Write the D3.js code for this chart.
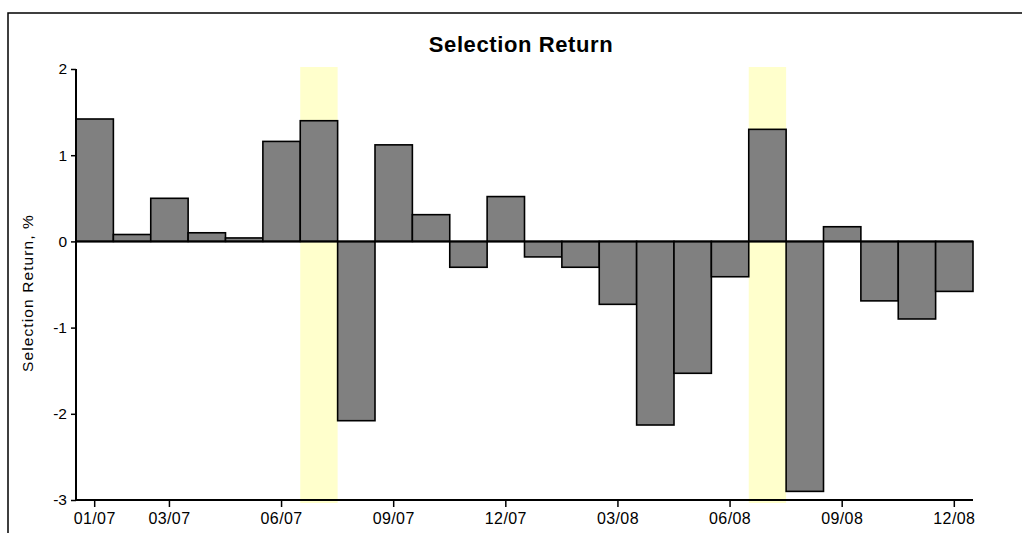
<!DOCTYPE html>
<html>
<head>
<meta charset="utf-8">
<script src="https://cdn.jsdelivr.net/npm/d3@7"></script>
<style>
  html, body { margin: 0; padding: 0; background: #fff; }
  svg { display: block; }
</style>
</head>
<body>
<svg id="chart" width="1022" height="533"></svg>
<script>
const months = ["01/07","02/07","03/07","04/07","05/07","06/07","07/07","08/07","09/07","10/07","11/07","12/07",
                "01/08","02/08","03/08","04/08","05/08","06/08","07/08","08/08","09/08","10/08","11/08","12/08"];
const values = [1.42, 0.08, 0.50, 0.10, 0.04, 1.16, 1.40, -2.08, 1.12, 0.31, -0.30, 0.52,
                -0.18, -0.30, -0.73, -2.13, -1.53, -0.41, 1.30, -2.90, 0.17, -0.69, -0.90, -0.58];
const highlighted = ["07/07", "07/08"];
const xTickLabels = ["01/07","03/07","06/07","09/07","12/07","03/08","06/08","09/08","12/08"];
const yTicks = [-3, -2, -1, 0, 1, 2];
const titleText = "Selection Return";
const yLabelText = "Selection Return, %";

const svg = d3.select("#chart");
const mLeft = 76, mRight = 973, mTop = 69, mBottom = 500;

const x = d3.scaleBand().domain(months).range([mLeft, mRight]).padding(0);
const y = d3.scaleLinear().domain([-3, 2]).range([mBottom, mTop]);

// outer frame
svg.append("rect").attr("x", 8).attr("y", 13).attr("width", 1030).attr("height", 540)
  .attr("fill", "none").attr("stroke", "#000").attr("stroke-width", 1.5);

// highlight bands
svg.append("g").selectAll("rect").data(highlighted).join("rect")
  .attr("x", d => x(d)).attr("width", x.bandwidth())
  .attr("y", y(2) - 2).attr("height", y(-3) - y(2) + 5)
  .attr("fill", "#ffffcc");

// bars
svg.append("g").selectAll("rect").data(months).join("rect")
  .attr("x", d => x(d)).attr("width", x.bandwidth())
  .attr("y", (d, i) => y(Math.max(0, values[i])))
  .attr("height", (d, i) => Math.abs(y(values[i]) - y(0)))
  .attr("fill", "#808080").attr("stroke", "#000").attr("stroke-width", 1.6);

// zero line
svg.append("line").attr("x1", mLeft).attr("x2", mRight).attr("y1", y(0)).attr("y2", y(0))
  .attr("stroke", "#000").attr("stroke-width", 2);

// y axis
const yAxis = svg.append("g").attr("transform", `translate(${mLeft},0)`)
  .call(d3.axisLeft(y).tickValues(yTicks).tickFormat(d => String(d)).tickSize(5).tickPadding(4));
yAxis.select(".domain").attr("d", `M0,${mTop}V${mBottom}`).attr("stroke-width", 2);
yAxis.selectAll(".tick line").attr("stroke-width", 1.5);
yAxis.selectAll("text").attr("font-family", "Liberation Sans, Arial, sans-serif").attr("font-size", 15.5).attr("fill", "#000");

// x axis
const xAxis = svg.append("g").attr("transform", `translate(0,${mBottom})`)
  .call(d3.axisBottom(x).tickValues(xTickLabels).tickSize(7).tickPadding(6));
xAxis.select(".domain").attr("d", `M${mLeft},0H${mRight}`).attr("stroke-width", 2);
xAxis.selectAll(".tick line").attr("stroke-width", 1.5);
xAxis.selectAll("text").attr("font-family", "Liberation Sans, Arial, sans-serif").attr("font-size", 16)
  .attr("letter-spacing", 0.4).attr("fill", "#000");

// title
svg.append("text").attr("x", 521).attr("y", 52).attr("text-anchor", "middle")
  .attr("font-family", "Liberation Sans, Arial, sans-serif").attr("font-weight", "bold")
  .attr("font-size", 22).attr("letter-spacing", 0.6).text(titleText);

// y label
svg.append("text").attr("transform", "translate(33,293) rotate(-90)").attr("text-anchor", "middle")
  .attr("font-family", "Liberation Sans, Arial, sans-serif").attr("font-size", 15.5)
  .attr("letter-spacing", 1.1).text(yLabelText);
</script>
</body>
</html>
